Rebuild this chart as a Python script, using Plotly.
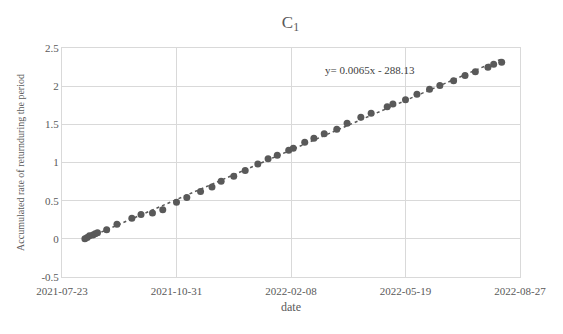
import numpy as np
import pandas as pd
import plotly.graph_objects as go

dates = ["2021-08-12", "2021-08-14", "2021-08-16", "2021-08-19", "2021-08-21", "2021-08-23",
         "2021-08-31", "2021-09-09", "2021-09-22", "2021-09-30", "2021-10-10", "2021-10-19",
         "2021-10-31", "2021-11-09", "2021-11-21", "2021-12-01", "2021-12-09", "2021-12-20",
         "2021-12-30", "2022-01-10", "2022-01-19", "2022-01-27", "2022-02-06", "2022-02-10",
         "2022-02-20", "2022-02-28", "2022-03-09", "2022-03-20", "2022-03-29", "2022-04-10",
         "2022-04-19", "2022-05-03", "2022-05-08", "2022-05-19", "2022-05-29", "2022-06-09",
         "2022-06-18", "2022-06-30", "2022-07-10", "2022-07-19", "2022-07-30", "2022-08-04",
         "2022-08-11"]
returns = [0.00, 0.017, 0.04, 0.05, 0.065, 0.08,
           0.12, 0.19, 0.27, 0.32, 0.34, 0.38,
           0.48, 0.54, 0.62, 0.68, 0.755, 0.82,
           0.894, 0.98, 1.05, 1.095, 1.16, 1.187,
           1.266, 1.318, 1.378, 1.436, 1.514, 1.593,
           1.645, 1.73, 1.767, 1.823, 1.894, 1.96,
           2.01, 2.07, 2.14, 2.19, 2.247, 2.287,
           2.313]
tick_dates = ["2021-07-23", "2021-10-31", "2022-02-08", "2022-05-19", "2022-08-27"]
y_ticks = [-0.5, 0, 0.5, 1, 1.5, 2, 2.5]
y_tick_text = ["-0.5", "0", "0.5", "1", "1.5", "2", "2.5"]
title_text = "C<sub>1</sub>"
x_title = "date"
y_title = "Accumulated rate of returnduring the period"
equation = "y= 0.0065x - 288.13"

d = pd.to_datetime(dates)
days = (d - d[0]).days.values.astype(float)
coef = np.polyfit(days, returns, 1)
trend_x = [d[0], d[-1]]
trend_y = [coef[1], coef[0] * days[-1] + coef[1]]

grey = "#595959"
font = "Liberation Serif, Times New Roman, Times, serif"

fig = go.Figure()
fig.add_trace(go.Scatter(x=trend_x, y=trend_y, mode="lines",
                         line=dict(color=grey, width=1.5, dash="dot"),
                         hoverinfo="skip", showlegend=False))
fig.add_trace(go.Scatter(x=d, y=returns, mode="markers",
                         marker=dict(color=grey, size=7),
                         showlegend=False))

fig.update_layout(
    width=563, height=334,
    margin=dict(l=62, r=43, t=48, b=57),
    paper_bgcolor="white", plot_bgcolor="white",
    font=dict(family=font, color=grey, size=11),
    title=dict(text=title_text, x=0.516, xanchor="center", y=0.935, yanchor="middle",
               font=dict(family=font, size=17, color="#595959")),
    annotations=[dict(text=equation, xref="paper", yref="paper",
                      x=0.672, y=0.904, xanchor="center", yanchor="middle",
                      showarrow=False, font=dict(family=font, size=11, color="#404040"))],
)
fig.update_xaxes(
    type="date", range=[tick_dates[0], tick_dates[-1]],
    tickvals=tick_dates, ticktext=tick_dates,
    showgrid=True, gridcolor="#d9d9d9", gridwidth=1,
    showline=True, linecolor="#d9d9d9", mirror=True,
    ticks="", zeroline=False, ticklabelstandoff=4,
    title=dict(text=x_title, font=dict(family=font, size=12, color=grey), standoff=6),
    tickfont=dict(family=font, size=11, color=grey),
)
fig.update_yaxes(
    range=[-0.5, 2.5], tickvals=y_ticks, ticktext=y_tick_text,
    showgrid=True, gridcolor="#d9d9d9", gridwidth=1,
    showline=True, linecolor="#d9d9d9", mirror=True,
    zeroline=True, zerolinecolor="#d9d9d9", zerolinewidth=1,
    ticks="",
    title=dict(text=y_title, font=dict(family=font, size=10, color=grey), standoff=14),
    tickfont=dict(family=font, size=11, color=grey),
)

fig.write_html("out.html")
